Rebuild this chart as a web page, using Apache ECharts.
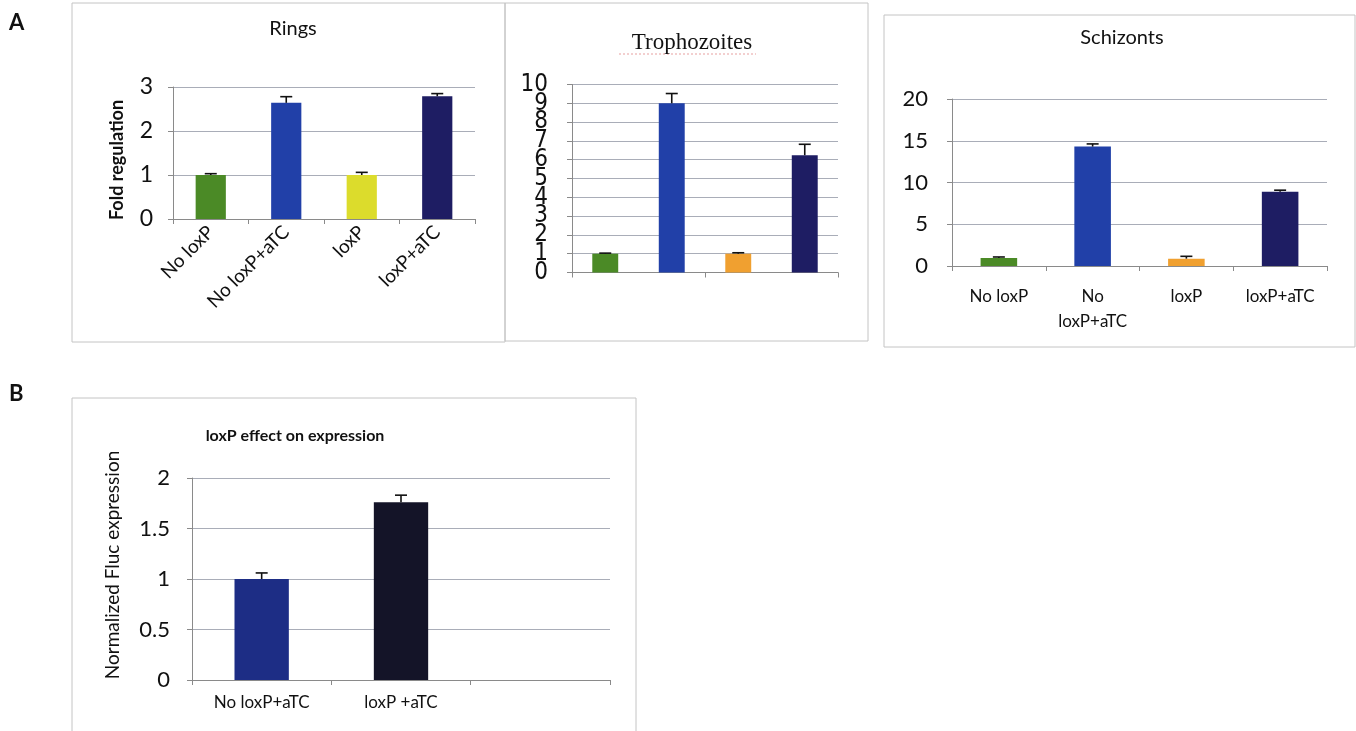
<!DOCTYPE html>
<html>
<head>
<meta charset="utf-8">
<title>loxP expression panels</title>
<script src="https://cdn.jsdelivr.net/npm/echarts@6/dist/echarts.min.js"></script>
<style>
  html, body { margin: 0; padding: 0; background: #ffffff; }
  #chart { width: 1356px; height: 731px; }
</style>
</head>
<body>
<div id="chart"></div>
<script>
// ---- data ----
const stageCats = ['No loxP', 'No loxP+aTC', 'loxP', 'loxP+aTC'];
const schizontLabels = ['No loxP', 'No\nloxP+aTC', 'loxP', 'loxP+aTC'];

const ringsValues = [1.0, 2.64, 1.0, 2.79];
const ringsErrors = [0.03, 0.14, 0.06, 0.06];
const ringsTicks = [0, 1, 2, 3];

const trophValues = [1.0, 9.0, 1.0, 6.24];
const trophErrors = [0.03, 0.52, 0.05, 0.58];
const trophTicks = [0, 1, 2, 3, 4, 5, 6, 7, 8, 9, 10];

const schizValues = [0.96, 14.3, 0.88, 8.88];
const schizErrors = [0.12, 0.32, 0.28, 0.2];
const schizTicks = [0, 5, 10, 15, 20];

const fluxCats = ['No loxP+aTC', 'loxP +aTC', ''];
const fluxValues = [1.0, 1.76];
const fluxErrors = [0.06, 0.07];
const fluxTicks = [0, 0.5, 1, 1.5, 2];

// ---- colours ----
const ringsColors = ['#4b8a26', '#2140a8', '#dcdc2c', '#1e1d63'];
const stageColors = ['#4b8a26', '#2140a8', '#f0a030', '#1e1d63'];
const fluxColors = ['#1d2d85', '#141428'];

const SANS = 'Lato, "Noto Sans", sans-serif';
const GRID_COLOR = '#a9adb8';
const AXIS_COLOR = '#8a8a8a';

function colored(values, colors) {
  return values.map((v, i) => ({ value: v, itemStyle: { color: colors[i] } }));
}

function errorData(values, errors) {
  return values.map((v, i) => [i, v, v + errors[i]]);
}

// upward error bar with a flat cap
function errorBar(capHalf) {
  return function (params, api) {
    const x = api.value(0);
    const base = api.coord([x, api.value(1)]);
    const top = api.coord([x, api.value(2)]);
    const style = { stroke: '#111', lineWidth: 1.6 };
    return {
      type: 'group',
      children: [
        { type: 'line', shape: { x1: base[0], y1: base[1], x2: top[0], y2: top[1] }, style },
        { type: 'line', shape: { x1: top[0] - capHalf, y1: top[1], x2: top[0] + capHalf, y2: top[1] }, style }
      ]
    };
  };
}

function valueAxis(gridIndex, ticks, labelFont, extra) {
  return Object.assign({
    type: 'value',
    gridIndex,
    min: ticks[0],
    max: ticks[ticks.length - 1],
    interval: ticks[1] - ticks[0],
    axisLine: { show: true, lineStyle: { color: AXIS_COLOR, width: 1 } },
    axisTick: { show: true, length: 5, lineStyle: { color: AXIS_COLOR } },
    splitLine: { show: true, lineStyle: { color: GRID_COLOR, width: 1 } },
    axisLabel: Object.assign({
      color: '#111', margin: 12, hideOverlap: false, showMinLabel: true, showMaxLabel: true
    }, labelFont)
  }, extra || {});
}

function categoryAxis(gridIndex, cats, label) {
  return {
    type: 'category',
    gridIndex,
    data: cats,
    axisLine: { show: true, lineStyle: { color: AXIS_COLOR, width: 1 } },
    axisTick: { show: true, length: 5, lineStyle: { color: AXIS_COLOR } },
    axisLabel: label
  };
}

// the Trophozoites digits sit closer than their own height, so even and odd
// tick labels are carried by two overlaid axes of the same grid
const trophFont = {
  fontFamily: '"DejaVu Sans Condensed", "DejaVu Sans", sans-serif', fontSize: 24, margin: 24
};
const trophEven = trophTicks.filter(v => v % 2 === 0);
const trophOdd = trophTicks.filter(v => v % 2 === 1);

const chart = echarts.init(document.getElementById('chart'), null, { renderer: 'canvas' });

const frameStyle = { fill: 'none', stroke: '#c4c4c4', lineWidth: 1 };

const option = {
  backgroundColor: '#ffffff',
  animation: false,
  title: [
    { text: 'Rings', left: 288, top: 14, textAlign: 'center',
      textStyle: { fontFamily: SANS, fontSize: 20, fontWeight: 'normal', color: '#111' } },
    { text: 'Trophozoites', left: 687, top: 26, textAlign: 'center',
      textStyle: { fontFamily: '"Liberation Serif", serif', fontSize: 23, fontWeight: 'normal', color: '#111' } },
    { text: 'Schizonts', left: 1117, top: 23, textAlign: 'center',
      textStyle: { fontFamily: SANS, fontSize: 20, fontWeight: 'normal', color: '#111' } },
    { text: 'loxP effect on expression', left: 290, top: 423, textAlign: 'center',
      textStyle: { fontFamily: SANS, fontSize: 16, fontWeight: 'bold', color: '#111' } }
  ],
  graphic: [
    { type: 'rect', shape: { x: 72, y: 3, width: 433, height: 339 }, style: frameStyle, silent: true },
    { type: 'rect', shape: { x: 505, y: 3, width: 363, height: 338 }, style: frameStyle, silent: true },
    { type: 'rect', shape: { x: 884, y: 15, width: 471, height: 332 }, style: frameStyle, silent: true },
    { type: 'rect', shape: { x: 72, y: 398, width: 564, height: 345 }, style: frameStyle, silent: true },
    { type: 'text', left: 9, top: 12,
      style: { text: 'A', font: 'bold 22px ' + SANS, fill: '#111' } },
    { type: 'text', left: 9, top: 383,
      style: { text: 'B', font: 'bold 22px ' + SANS, fill: '#111' } },
    { type: 'line', shape: { x1: 619, y1: 54, x2: 756, y2: 54 },
      style: { stroke: '#e8a0a0', lineWidth: 1, lineDash: [2, 2] }, silent: true }
  ],
  grid: [
    { left: 173, top: 87, width: 302, height: 132 },
    { left: 572, top: 84.5, width: 266, height: 188 },
    { left: 952, top: 99, width: 375, height: 167 },
    { left: 192, top: 478, width: 418, height: 202 }
  ],
  xAxis: [
    categoryAxis(0, stageCats, {
      rotate: 45, interval: 0, margin: 10, color: '#111', fontFamily: SANS, fontSize: 19
    }),
    categoryAxis(1, stageCats, { show: false }),
    categoryAxis(2, schizontLabels, {
      interval: 0, margin: 18, color: '#111', fontFamily: SANS, fontSize: 17, lineHeight: 25
    }),
    categoryAxis(3, fluxCats, {
      interval: 0, margin: 14, color: '#111', fontFamily: SANS, fontSize: 17
    })
  ],
  yAxis: [
    valueAxis(0, ringsTicks, { fontFamily: SANS, fontSize: 23, margin: 20 }, {
      name: 'Fold regulation', nameLocation: 'middle', nameRotate: 90, nameGap: 47,
      nameTextStyle: { fontFamily: SANS, fontSize: 18, fontWeight: 'bold', color: '#111', padding: [0, 14, 0, 0] }
    }),
    valueAxis(1, trophTicks, Object.assign({ customValues: trophEven }, trophFont)),
    valueAxis(2, schizTicks, { fontFamily: SANS, fontSize: 22, margin: 24 }),
    valueAxis(3, fluxTicks, { fontFamily: SANS, fontSize: 22, margin: 22 }, {
      name: 'Normalized Fluc expression', nameLocation: 'middle', nameRotate: 90, nameGap: 70,
      nameTextStyle: { fontFamily: SANS, fontSize: 19, color: '#111', padding: [0, 0, 0, 28] }
    }),
    valueAxis(1, trophTicks, Object.assign({ customValues: trophOdd }, trophFont), {
      position: 'left',
      axisLine: { show: false },
      axisTick: { show: false },
      splitLine: { show: false }
    })
  ],
  series: [
    { type: 'bar', xAxisIndex: 0, yAxisIndex: 0, barWidth: '40%', data: colored(ringsValues, ringsColors) },
    { type: 'custom', xAxisIndex: 0, yAxisIndex: 0, renderItem: errorBar(6), data: errorData(ringsValues, ringsErrors), z: 5 },

    { type: 'bar', xAxisIndex: 1, yAxisIndex: 1, barWidth: '39%', data: colored(trophValues, stageColors) },
    { type: 'custom', xAxisIndex: 1, yAxisIndex: 1, renderItem: errorBar(6), data: errorData(trophValues, trophErrors), z: 5 },

    { type: 'bar', xAxisIndex: 2, yAxisIndex: 2, barWidth: '39%', data: colored(schizValues, stageColors) },
    { type: 'custom', xAxisIndex: 2, yAxisIndex: 2, renderItem: errorBar(6), data: errorData(schizValues, schizErrors), z: 5 },

    { type: 'bar', xAxisIndex: 3, yAxisIndex: 3, barWidth: '39%', data: colored(fluxValues, fluxColors) },
    { type: 'custom', xAxisIndex: 3, yAxisIndex: 3, renderItem: errorBar(6), data: errorData(fluxValues, fluxErrors), z: 5 }
  ]
};

chart.setOption(option);
</script>
</body>
</html>
